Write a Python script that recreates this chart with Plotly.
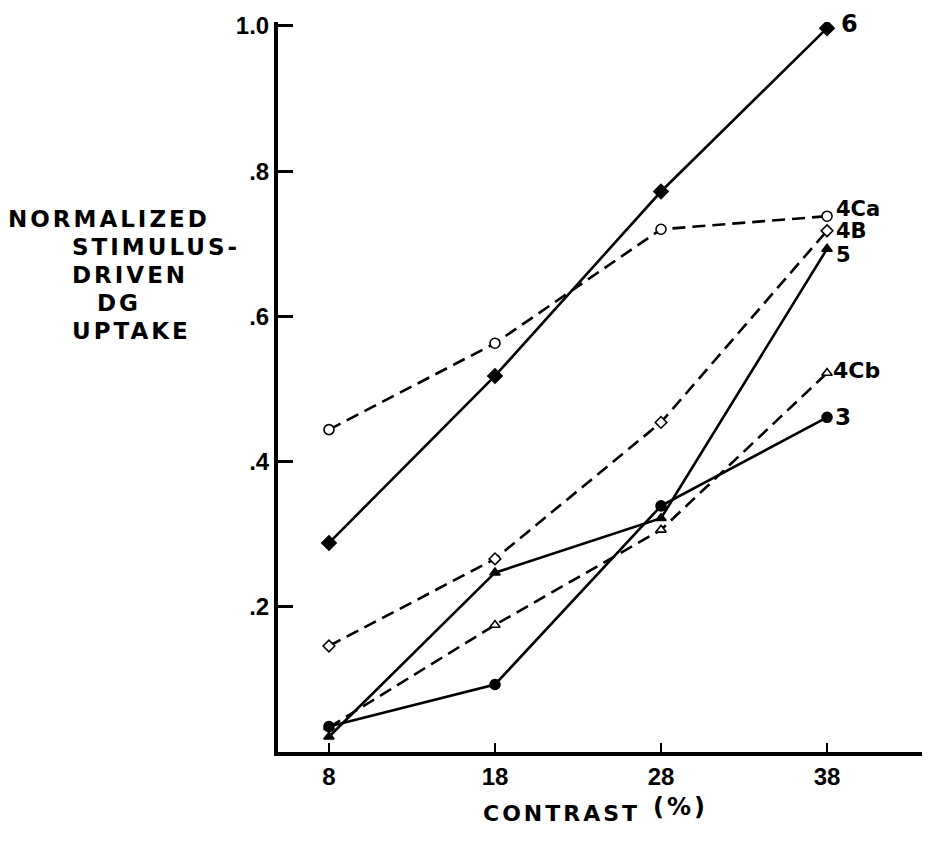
import plotly.graph_objects as go

# ---- data ----
contrast = [8, 18, 28, 38]
area_names = ["6", "4Ca", "4B", "5", "4Cb", "3"]
area_6 = [0.288, 0.518, 0.772, 0.997]
area_4Ca = [0.444, 0.563, 0.720, 0.738]
area_4B = [0.146, 0.266, 0.454, 0.718]
area_5 = [0.021, 0.247, 0.322, 0.693]
area_4Cb = [0.034, 0.175, 0.306, 0.522]
area_3 = [0.035, 0.093, 0.339, 0.461]
y_tick_vals = [0.2, 0.4, 0.6, 0.8, 1.0]
y_tick_text = [".2", ".4", ".6", ".8", "1.0"]
x_tick_vals = [8, 18, 28, 38]
x_tick_text = ["8", "18", "28", "38"]

series = {
    "6": area_6, "4Ca": area_4Ca, "4B": area_4B,
    "5": area_5, "4Cb": area_4Cb, "3": area_3,
}

# ---- styles ----
styles = {
    "6":   dict(dash="solid", symbol="diamond", fill="black", size=11, yshift=4, xshift=12, fs=24),
    "4Ca": dict(dash="13px,7px", symbol="circle", fill="white", size=10, yshift=7, xshift=7, fs=21),
    "4B":  dict(dash="13px,7px", symbol="diamond", fill="white", size=9, yshift=0, xshift=7, fs=21),
    "5":   dict(dash="solid", symbol="triangle-up", fill="black", size=9, yshift=-6, xshift=7, fs=21),
    "4Cb": dict(dash="13px,7px", symbol="triangle-up", fill="white", size=9, yshift=3, xshift=4, fs=22),
    "3":   dict(dash="solid", symbol="circle", fill="black", size=10, yshift=0, xshift=6, fs=23),
}

LABEL_FONT = "DejaVu Sans"
TICK_FONT = "Liberation Sans"

fig = go.Figure()
for name in area_names:
    st = styles[name]
    fig.add_trace(go.Scatter(
        x=contrast, y=series[name], mode="lines+markers", name=name,
        line=dict(color="black", width=2.6, dash=st["dash"]),
        marker=dict(symbol=st["symbol"], size=st["size"], color=st["fill"],
                    line=dict(color="black", width=1.6)),
        showlegend=False,
    ))

# plot area geometry (pixels) used to place free text
L, R, T, B = 278, 6, 22, 100
W, H = 928, 852
pw, ph = W - L - R, H - T - B

def px_x(px):
    return (px - L) / pw

def px_y(py):
    return (H - B - py) / ph

annotations = []
ylabel_lines = [("NORMALIZED", 6, 219), ("STIMULUS-", 70, 247), ("DRIVEN", 70, 275),
                ("DG", 95, 303), ("UPTAKE", 70, 331)]
for txt, lx, cy in ylabel_lines:
    annotations.append(dict(text=txt, xref="paper", yref="paper", x=px_x(lx), y=px_y(cy),
                            xanchor="left", yanchor="middle", align="left", showarrow=False,
                            font=dict(family=LABEL_FONT, size=23, color="black", weight="bold")))
annotations.append(dict(text="CONTRAST", xref="paper", yref="paper", x=px_x(481), y=px_y(813),
                        xanchor="left", yanchor="middle", align="left", showarrow=False,
                        font=dict(family=LABEL_FONT, size=22, color="black", weight="bold")))
annotations.append(dict(text="(%)", xref="paper", yref="paper", x=px_x(651), y=px_y(807),
                        xanchor="left", yanchor="middle", align="left", showarrow=False,
                        font=dict(family=LABEL_FONT, size=24, color="black", weight="bold")))
n_spaced = len(annotations) - 1

for name in area_names:
    st = styles[name]
    annotations.append(dict(text=name, xref="x", yref="y", x=contrast[-1], y=series[name][-1],
                            xanchor="left", yanchor="middle", xshift=st["xshift"], yshift=st["yshift"],
                            showarrow=False,
                            font=dict(family=LABEL_FONT, size=st["fs"], color="black", weight="bold")))

fig.update_layout(
    width=W, height=H,
    margin=dict(l=L, r=R, t=T, b=B, pad=0),
    paper_bgcolor="white", plot_bgcolor="white",
    showlegend=False,
    annotations=annotations,
    xaxis=dict(range=[4.93, 43.72], tickvals=x_tick_vals, ticktext=x_tick_text,
               ticks="inside", ticklen=9, tickwidth=2, tickcolor="black",
               showline=True, linewidth=4, linecolor="black",
               showgrid=False, zeroline=False, ticklabelstandoff=0,
               tickfont=dict(family=TICK_FONT, size=24, color="black", weight="bold")),
    yaxis=dict(range=[0, 1.0055], tickvals=y_tick_vals, ticktext=y_tick_text,
               ticks="inside", ticklen=15, tickwidth=3, tickcolor="black",
               showline=True, linewidth=4, linecolor="black",
               showgrid=False, zeroline=False, ticklabelstandoff=0,
               tickfont=dict(family=TICK_FONT, size=24, color="black", weight="bold")),
)

post = """
document.body.style.margin = '0';
document.body.style.padding = '0';
var gd = document.getElementById('{plot_id}');
function spaceOut() {
  var groups = gd.querySelectorAll('.annotation');
  groups.forEach(function(g) {
    var idx = parseInt(g.getAttribute('data-index'));
    if (idx <= %d) {
      var t = g.querySelector('text');
      if (t) { t.style.letterSpacing = '3px'; }
    }
  });
}
spaceOut();
""" % n_spaced

fig.write_html("out.html", post_script=post, config={"displayModeBar": False})
